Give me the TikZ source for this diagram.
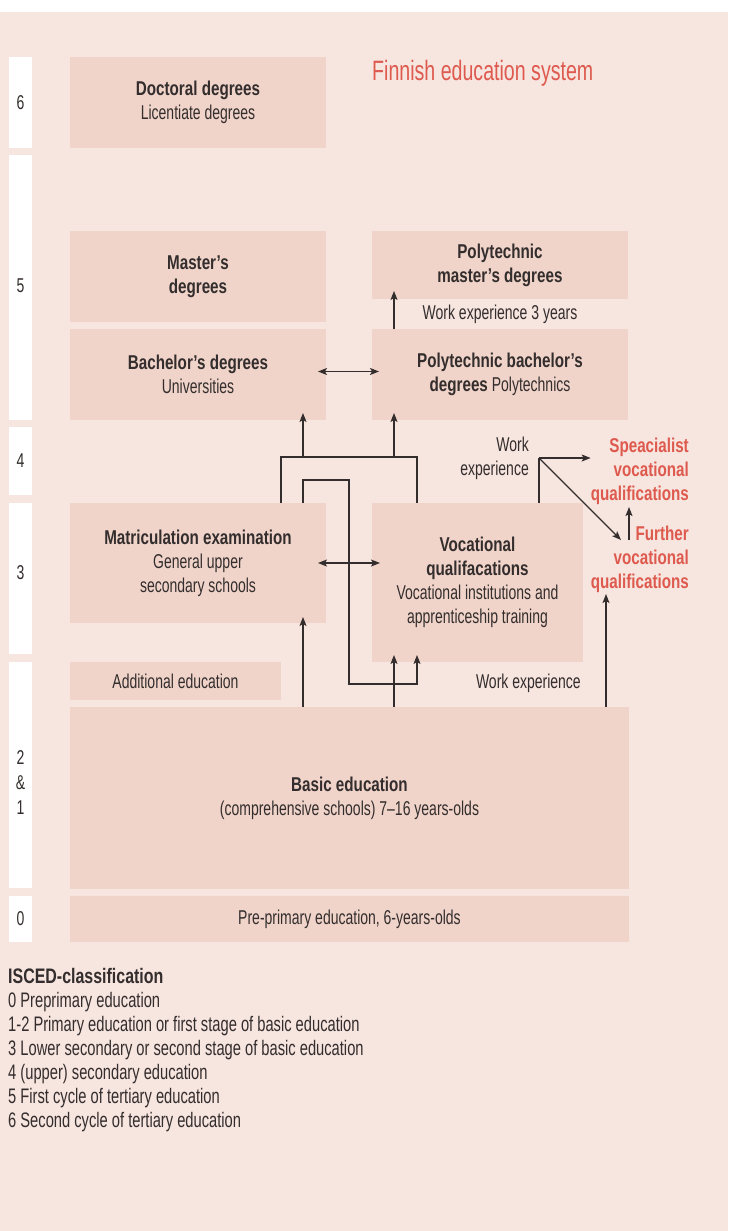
\documentclass[tikz,border=0pt]{standalone}
\usepackage{fontspec}
\setmainfont[FakeStretch=0.70,BoldFeatures={FakeStretch=0.76}]{Liberation Sans}
\usetikzlibrary{arrows.meta, calc}

\definecolor{bgpink}{HTML}{F7E5DF}
\definecolor{boxpink}{HTML}{F0D4C9}
\definecolor{txt}{HTML}{332D2D}
\definecolor{finred}{HTML}{DE5A4E}

\begin{document}
\begin{tikzpicture}[x=1pt, y=-1pt,
    box/.style={fill=boxpink, text=txt, align=center, inner sep=0pt, outer sep=0pt, font=\fontsize{20}{24}\selectfont},
    level/.style={fill=white, inner sep=0pt, outer sep=0pt, minimum width=23pt},
    lvltext/.style={text=txt, align=center, inner sep=0pt, font=\fontsize{20}{25}\selectfont},
    lane/.style={draw=txt, line width=1.1pt},
    arr/.style={lane, -{Stealth[length=9pt,width=7pt,inset=2pt]}},
    darr/.style={lane, {Stealth[length=9pt,width=7pt,inset=2pt]}-{Stealth[length=9pt,width=7pt,inset=2pt]}},
    lbl/.style={text=txt, inner sep=0pt, font=\fontsize{20}{24}\selectfont},
    redlbl/.style={text=finred, inner sep=0pt, align=right, font=\bfseries\fontsize{20}{24}\selectfont}]
    % Units are pixels of the page, y runs downwards
    \useasboundingbox (0,0) rectangle (728,1231);
    \fill[white] (0,0) rectangle (728,12);
    \fill[bgpink] (0,12) rectangle (728,1231);

    % ISCED levels
    \node[level, minimum height=91pt] (l6) at (20.5,102.5) {};
    \node[level, minimum height=265pt] (l5) at (20.5,287.5) {};
    \node[level, minimum height=68pt] (l4) at (20.5,461) {};
    \node[level, minimum height=151pt] (l3) at (20.5,578.5) {};
    \node[level, minimum height=226pt] (l21) at (20.5,775) {};
    \node[level, minimum height=46pt] (l0) at (20.5,919) {};
    \node[lvltext] (t6) at (l6) {6};
    \node[lvltext] (t5) at ($(l5)+(0,-2)$) {5};
    \node[lvltext] (t4) at (l4) {4};
    \node[lvltext] (t3) at ($(l3)+(0,-6)$) {3};
    \node[lvltext] (t21) at ($(l21)+(0,8)$) {2\\\&\\1};
    \node[lvltext] (t0) at (l0) {0};

    \node[text=finred, anchor=west, inner sep=0pt, font=\fontsize{28}{34}\selectfont] (title) at (372,73) {Finnish education system};

    % Schools and degrees
    \node[box, minimum width=256pt, minimum height=91pt] (doc) at (198,102.5) {\textbf{Doctoral degrees}\\Licentiate degrees};
    \node[box, minimum width=256pt, minimum height=91pt] (mast) at (198,276.5) {\textbf{Master's}\\\textbf{degrees}};
    \node[box, minimum width=256pt, minimum height=68pt] (pmast) at (500,265) {\textbf{Polytechnic}\\\textbf{master's degrees}};
    \node[box, minimum width=256pt, minimum height=91pt] (bach) at (198,374.5) {\textbf{Bachelor's degrees}\\Universities};
    \node[box, minimum width=256pt, minimum height=91pt] (pbach) at (500,374.5) {\textbf{Polytechnic bachelor's}\\\textbf{degrees} Polytechnics};
    \node[box, minimum width=256pt, minimum height=120pt] (matr) at (198,563) {\textbf{Matriculation examination}\\General upper\\secondary schools};
    \node[box, minimum width=211pt, minimum height=159pt] (voc) at (477.5,582.5) {\textbf{Vocational}\\\textbf{qualifacations}\\Vocational institutions and\\apprenticeship training};
    \node[box, minimum width=211pt, minimum height=38pt] (addl) at (175.5,681) {Additional education};
    \node[box, minimum width=559pt, minimum height=182pt] (basic) at (349.5,798) {\textbf{Basic education}\\(comprehensive schools) 7--16 years-olds};
    \node[box, minimum width=559pt, minimum height=46pt] (pre) at (349.5,919) {Pre-primary education, 6-years-olds};

    \node[redlbl, anchor=north east] (spec) at (689,438) {Speacialist\\vocational\\qualifications};
    \node[redlbl, anchor=north east] (further) at (689,526) {Further\\vocational\\qualifications};

    % lanes of the connectors
    \coordinate (xl) at (281,0);
    \coordinate (xa) at (303,0);
    \coordinate (xc) at (349,0);
    \coordinate (xb) at (394,0);
    \coordinate (xd) at (417,0);
    \coordinate (xf) at (606,0);
    \coordinate (yj) at (0,457);
    \coordinate (yk) at (0,480);
    \coordinate (yb) at (0,684);
    \coordinate (wk) at (539,458);
    \coordinate (fin) at (621,540);
    \coordinate (fup) at (629,540);

    % Connectors
    \draw[arr] (pbach.north -| xb) -- ($(pmast.south -| xb)+(0,-8)$);
    \node[lbl] (w3) at ($(pmast.south)!0.5!(pbach.north)$) {Work experience 3 years};
    \draw[darr] ($(bach.east)+(-8,-3)$) -- ($(pbach.west)+(7,-3)$);
    \draw[darr] ($(matr.east)+(-8,0)$) -- ($(matr.east -| voc.west)+(8,0)$);

    \draw[lane] (matr.north -| xl) |- (xd |- yj) -- (voc.north -| xd);
    \draw[arr] (xa |- yj) -- ($(bach.south -| xa)+(0,-7)$);
    \draw[arr] (xb |- yj) -- ($(pbach.south -| xb)+(0,-7)$);
    \draw[arr] (matr.north -| xa) |- (xc |- yk) |- (xd |- yb) -- ($(voc.south -| xd)+(0,-7)$);

    \draw[arr] (basic.north -| xa) -- ($(matr.south -| xa)+(0,-6)$);
    \draw[arr] (basic.north -| xb) -- ($(voc.south -| xb)+(0,-7)$);
    \draw[arr] (basic.north -| xf) -- ($(further.south -| xf)+(0,1)$);
    \node[lbl, anchor=east] (wbot) at (581,683) {Work experience};

    \draw[lane] (voc.north -| wk) -- (wk);
    \node[lbl, anchor=east, align=right] (wtop) at ($(wk)+(-10,0)$) {Work\\experience};
    \draw[arr] (wk) -- (wk -| spec.west);
    \draw[arr] (wk) -- (fin);
    \draw[arr] (fup) -- ($(spec.south -| fup)+(0,2)$);

    % Legend
    \node[lbl, anchor=north west, align=left, font=\fontsize{21}{24}\selectfont] (isced) at (8,968) {\textbf{ISCED-classification}\\0 Preprimary education\\1-2 Primary education or first stage of basic education\\3 Lower secondary or second stage of basic education\\4 (upper) secondary education\\5 First cycle of tertiary education\\6 Second cycle of tertiary education};
\end{tikzpicture}
\end{document}
